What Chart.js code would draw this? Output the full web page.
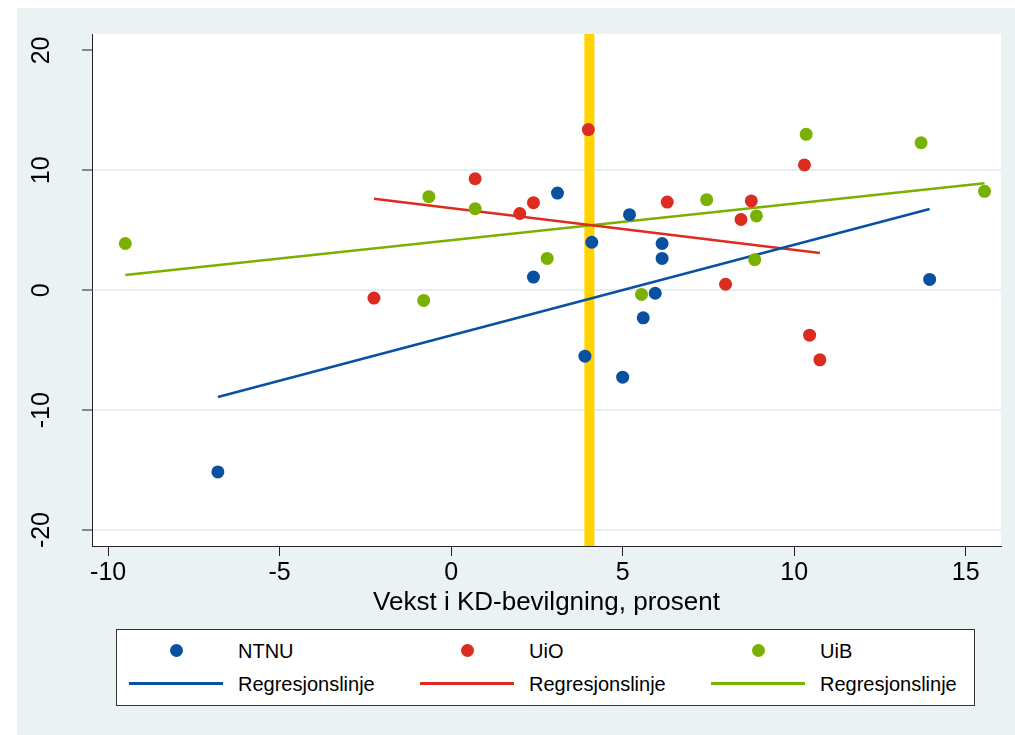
<!DOCTYPE html>
<html lang="no">
<head>
  <meta charset="UTF-8">
  <title>Vekst i KD-bevilgning</title>
  <script src="https://cdn.jsdelivr.net/npm/chart.js"></script>
  <style>
    body {
      margin: 0;
      padding: 0;
      background: #ffffff;
      font-family: "Liberation Sans", Arial, sans-serif;
    }
    .wrap {
      position: relative;
      width: 1015px;
      height: 735px;
    }
    #chart {
      position: absolute;
      left: 0;
      top: 0;
    }
    .legend {
      position: absolute;
      left: 116px;
      top: 629px;
      width: 857px;
      height: 75px;
      border: 1px solid #333;
      background: #fff;
    }
    .legend-item {
      position: absolute;
      font-size: 20px;
      line-height: 24px;
      color: #000;
    }
    .dot {
      position: absolute;
      width: 13px;
      height: 13px;
      border-radius: 50%;
    }
    .bar {
      position: absolute;
      width: 94px;
      height: 3px;
    }
  </style>
</head>
<body>
  <div class="wrap">
    <canvas id="chart" width="1015" height="735"></canvas>
    <div class="legend" id="legend"></div>
  </div>

  <script>
    // akser
    const xTicks = [-10, -5, 0, 5, 10, 15];
    const yTicks = [-20, -10, 0, 10, 20];
    const xMin = -10.47, xMax = 16.03;
    const yMin = -21.33, yMax = 21.37;

    // NTNU
    const ntnuX = [-6.8, 2.4, 3.1, 3.9, 4.1, 5.0, 5.2, 5.6, 5.95, 6.15, 6.15, 13.95];
    const ntnuY = [-15.15, 1.1, 8.1, -5.5, 4.0, -7.25, 6.3, -2.3, -0.25, 3.9, 2.65, 0.9];
    const ntnuLineX = [-6.8, 13.95];
    const ntnuLineY = [-8.9, 6.77];

    // UiO
    const uioX = [-2.25, 0.7, 2.0, 2.4, 4.0, 6.3, 8.0, 8.45, 8.75, 10.3, 10.45, 10.75];
    const uioY = [-0.65, 9.3, 6.4, 7.3, 13.4, 7.35, 0.5, 5.9, 7.45, 10.45, -3.75, -5.8];
    const uioLineX = [-2.25, 10.75];
    const uioLineY = [7.63, 3.1];

    // UiB
    const uibX = [-9.5, -0.8, -0.65, 0.7, 2.8, 5.55, 7.45, 8.85, 8.9, 10.35, 13.7, 15.55];
    const uibY = [3.9, -0.85, 7.8, 6.8, 2.65, -0.35, 7.55, 2.55, 6.2, 13.0, 12.3, 8.25];
    const uibLineX = [-9.5, 15.55];
    const uibLineY = [1.27, 8.93];

    // gul loddrett linje
    const refX = 4.03;

    const names = ['NTNU', 'UiO', 'UiB'];
    const lineLabel = 'Regresjonslinje';
    const colors = ['#0A50A0', '#DC2B1F', '#7AB000'];
    const yellow = '#FFD200';

    const pts = (xs, ys) => xs.map((x, i) => ({ x: x, y: ys[i] }));

    const scatterSet = (label, xs, ys, color) => ({
      type: 'scatter',
      label: label,
      data: pts(xs, ys),
      backgroundColor: color,
      borderWidth: 0,
      pointRadius: 6.5,
      pointHoverRadius: 6.5,
      order: 1
    });

    const lineSet = (xs, ys, color) => ({
      type: 'line',
      label: lineLabel,
      data: pts(xs, ys),
      borderColor: color,
      borderWidth: 2.5,
      pointRadius: 0,
      fill: false,
      order: 2
    });

    // bakgrunn: grå flate og hvitt plottområde
    const bgPlugin = {
      id: 'bg',
      beforeDraw(chart) {
        const ctx = chart.ctx;
        const a = chart.chartArea;
        ctx.save();
        ctx.fillStyle = '#EAF2F3';
        ctx.fillRect(17, 8, 998, 727);
        ctx.fillStyle = '#FFFFFF';
        ctx.fillRect(a.left, a.top, a.right - a.left, a.bottom - a.top);
        ctx.restore();
      }
    };

    const tickColor = '#222';
    const font = { family: '"Liberation Sans", Arial, sans-serif', size: 25 };
    const titleFont = { family: '"Liberation Sans", Arial, sans-serif', size: 26 };

    new Chart(document.getElementById('chart'), {
      data: {
        datasets: [
          scatterSet(names[0], ntnuX, ntnuY, colors[0]),
          scatterSet(names[1], uioX, uioY, colors[1]),
          scatterSet(names[2], uibX, uibY, colors[2]),
          lineSet(ntnuLineX, ntnuLineY, colors[0]),
          lineSet(uioLineX, uioLineY, colors[1]),
          lineSet(uibLineX, uibLineY, colors[2]),
          {
            type: 'line',
            label: 'ref',
            data: [{ x: refX, y: yMin }, { x: refX, y: yMax }],
            borderColor: yellow,
            borderWidth: 10,
            borderCapStyle: 'butt',
            pointRadius: 0,
            order: 3
          }
        ]
      },
      options: {
        responsive: false,
        animation: false,
        layout: { padding: { left: 17, top: 34, right: 14, bottom: 109 } },
        plugins: {
          legend: { display: false },
          tooltip: { enabled: false }
        },
        scales: {
          x: {
            type: 'linear',
            min: xMin,
            max: xMax,
            afterBuildTicks: s => { s.ticks = xTicks.map(v => ({ value: v })); },
            afterFit: s => { s.height = 80; s.paddingLeft = 0; s.paddingRight = 0; },
            grid: { drawOnChartArea: false, tickLength: 10, tickColor: tickColor, tickWidth: 1 },
            border: { color: tickColor, width: 1 },
            ticks: { font: font, color: '#000', padding: 2, autoSkip: false, maxRotation: 0 },
            title: {
              display: true,
              text: 'Vekst i KD-bevilgning, prosent',
              font: titleFont,
              color: '#000',
              padding: { top: 0, bottom: 8 }
            }
          },
          y: {
            type: 'linear',
            min: yMin,
            max: yMax,
            afterBuildTicks: s => { s.ticks = yTicks.map(v => ({ value: v })); },
            afterFit: s => { s.width = 75; s.paddingTop = 0; s.paddingBottom = 0; },
            grid: {
              color: c => (c.tick && c.tick.value === 20) ? 'rgba(0,0,0,0)' : '#E5EEF0',
              lineWidth: 2,
              tickLength: 10,
              tickColor: tickColor,
              tickWidth: 1
            },
            border: { color: tickColor, width: 1 },
            ticks: { font: font, color: '#000', padding: 22, minRotation: 90, maxRotation: 90, crossAlign: 'center' }
          }
        }
      },
      plugins: [bgPlugin]
    });

    // forklaring: tre kolonner, to rader
    const legend = document.getElementById('legend');
    const colStep = 291;
    names.forEach((name, i) => {
      const off = i * colStep;
      const dot = document.createElement('div');
      dot.className = 'dot';
      dot.style.background = colors[i];
      dot.style.left = (53 + off) + 'px';
      dot.style.top = '14px';
      legend.appendChild(dot);

      const t1 = document.createElement('div');
      t1.className = 'legend-item';
      t1.textContent = name;
      t1.style.left = (121 + off) + 'px';
      t1.style.top = '9px';
      legend.appendChild(t1);

      const bar = document.createElement('div');
      bar.className = 'bar';
      bar.style.background = colors[i];
      bar.style.left = (12 + off) + 'px';
      bar.style.top = '52px';
      legend.appendChild(bar);

      const t2 = document.createElement('div');
      t2.className = 'legend-item';
      t2.textContent = lineLabel;
      t2.style.left = (121 + off) + 'px';
      t2.style.top = '42px';
      legend.appendChild(t2);
    });
  </script>
</body>
</html>
